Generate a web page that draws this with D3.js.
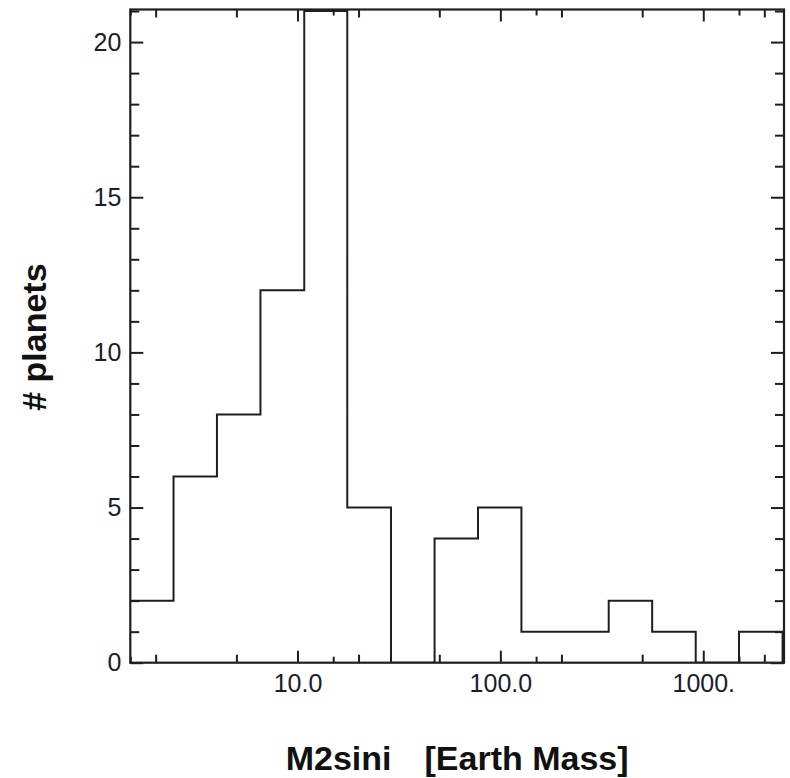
<!DOCTYPE html>
<html>
<head>
<meta charset="utf-8">
<script src="https://cdn.jsdelivr.net/npm/d3@7"></script>
<style>
  body { margin: 0; background: #fff; }
  text { font-family: "Liberation Sans", Arial, sans-serif; }
</style>
</head>
<body>
<script>
// bin edges (Earth masses, log-spaced) and planet counts per bin
const binEdges = [1.49, 2.45, 4.01, 6.57, 10.8, 17.6, 28.9, 47.4, 77.6, 127, 209, 342, 560, 918, 1500, 2460];
const counts = [2, 6, 8, 12, 21, 5, 0, 4, 5, 1, 1, 2, 1, 0, 1];

const xMajorTicks = [10, 100, 1000];
const xMajorLabels = ["10.0", "100.0", "1000."];
const xMinorTicks = [2, 5, 20, 50, 200, 500, 2000];
const xSmallTicks = [1.5, 15, 150, 1500];
const yMajorTicks = [0, 5, 10, 15, 20];
const yMinorTicks = d3.range(0, 22).filter(v => v % 5 != 0);

const width = 790, height = 778;
const margin = { left: 130.3, top: 9.5, right: 6, bottom: 115.3 };

const svg = d3.select("body").append("svg")
    .attr("width", width)
    .attr("height", height);

const x = d3.scaleLog()
    .domain([1.5, 2500])
    .range([margin.left, width - margin.right]);

const y = d3.scaleLinear()
    .domain([0, 21.05])
    .range([height - margin.bottom, margin.top]);

const innerW = width - margin.right - margin.left;
const innerH = height - margin.bottom - margin.top;

svg.append("clipPath").attr("id", "plot-clip")
    .append("rect")
    .attr("x", margin.left).attr("y", margin.top)
    .attr("width", innerW).attr("height", innerH);

// step outline of the histogram
let pts = [];
counts.forEach((c, i) => {
    pts.push([binEdges[i], c]);
    pts.push([binEdges[i + 1], c]);
});
pts.unshift([binEdges[0], 0]);
pts.push([binEdges[binEdges.length - 1], 0]);

const line = d3.line()
    .x(d => x(d[0]))
    .y(d => y(d[1]));

svg.append("path")
    .datum(pts)
    .attr("clip-path", "url(#plot-clip)")
    .attr("fill", "none")
    .attr("stroke", "#1e1e1e")
    .attr("stroke-width", 2)
    .attr("d", line);

function styleAxis(g) {
    g.select(".domain").remove();
    g.selectAll(".tick line").attr("stroke", "#1e1e1e").attr("stroke-width", 2);
    g.selectAll(".tick text")
        .attr("fill", "#1c1c2c")
        .style("font-size", "25px");
}

const bottomY = height - margin.bottom;
const rightX = width - margin.right;

// x axes, bottom and top, ticks pointing inward
[[xMajorTicks, 12, true], [xMinorTicks, 8, false], [xSmallTicks, 6, false]].forEach(([vals, len, labels]) => {
    svg.append("g")
        .attr("transform", `translate(0,${bottomY})`)
        .call(d3.axisBottom(x).tickValues(vals).tickSize(-len).tickPadding(12)
            .tickFormat((d, i) => labels ? xMajorLabels[i] : ""))
        .call(styleAxis);
    svg.append("g")
        .attr("transform", `translate(0,${margin.top})`)
        .call(d3.axisTop(x).tickValues(vals).tickSize(-len).tickFormat(""))
        .call(styleAxis);
});

// y axes, left and right
[[yMajorTicks, 13, true], [yMinorTicks, 9, false]].forEach(([vals, len, labels]) => {
    svg.append("g")
        .attr("transform", `translate(${margin.left},0)`)
        .call(d3.axisLeft(y).tickValues(vals).tickSize(-len).tickPadding(9)
            .tickFormat(d => labels ? d : ""))
        .call(styleAxis);
    svg.append("g")
        .attr("transform", `translate(${rightX},0)`)
        .call(d3.axisRight(y).tickValues(vals).tickSize(-len).tickFormat(""))
        .call(styleAxis);
});

// frame
svg.append("rect")
    .attr("x", margin.left).attr("y", margin.top)
    .attr("width", innerW).attr("height", innerH)
    .attr("fill", "none")
    .attr("stroke", "#1e1e1e")
    .attr("stroke-width", 2.2);

// axis titles
const xTitle = svg.append("text")
    .attr("x", margin.left + innerW / 2)
    .attr("y", 770)
    .attr("text-anchor", "middle")
    .style("font-size", "34px")
    .style("font-weight", "bold")
    .attr("fill", "#111");
xTitle.append("tspan").text("M2sini");
xTitle.append("tspan").attr("dx", 33).text("[Earth Mass]");

svg.append("text")
    .attr("transform", `translate(46,${margin.top + innerH / 2 + 1}) rotate(-90)`)
    .attr("text-anchor", "middle")
    .style("font-size", "34px")
    .style("font-weight", "bold")
    .attr("fill", "#111")
    .text("# planets");
</script>
</body>
</html>
